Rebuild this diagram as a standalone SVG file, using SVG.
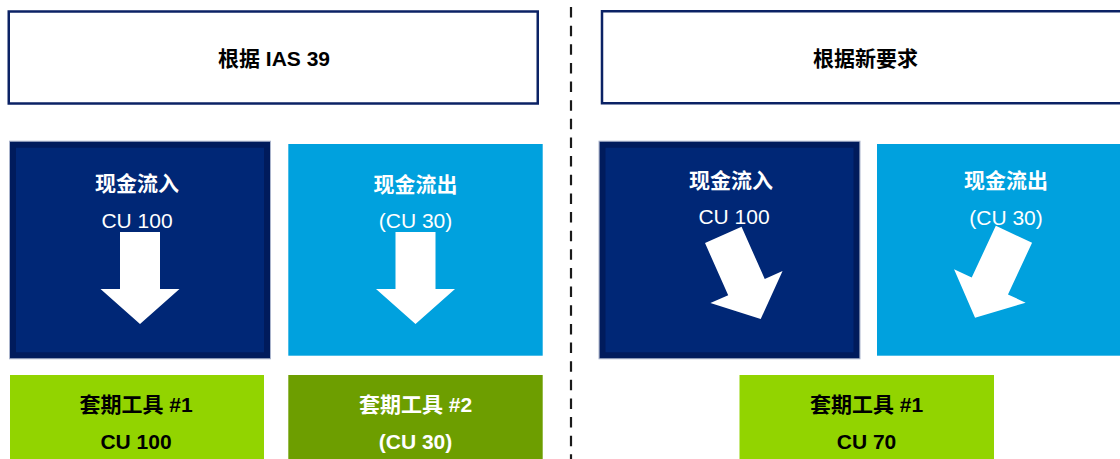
<svg xmlns="http://www.w3.org/2000/svg" width="1120" height="459" viewBox="0 0 1120 459">
  <defs>
    <style>
      .t { font-family: "Liberation Sans", "Noto Sans CJK SC", sans-serif; text-anchor: middle; font-size: 21px; }
      .b { font-weight: bold; }
      .w { fill: #ffffff; }
      .k { fill: #000000; }
      .hdr { fill: #ffffff; stroke: #0b2265; stroke-width: 2.5; }
      .navy { fill: #002776; stroke: #001b5c; stroke-width: 6; }
      .navyedge { fill: none; stroke: #aab4cc; stroke-width: 1; }
      .blue { fill: #00a1de; }
      .lgreen { fill: #92d400; }
      .dgreen { fill: #6d9e00; }
      .arrow { fill: #ffffff; }
    </style>
    <polygon id="arr" points="-20,-46 20,-46 20,11 39.5,11 0,46 -39.5,11 -20,11"/>
  </defs>
  <rect width="1120" height="459" fill="#ffffff"/>

  <g id="connectors">
    <line x1="571" y1="7" x2="571" y2="459" stroke="#1a1a1a" stroke-width="2.2" stroke-dasharray="10.5 8.14"/>
  </g>

  <g id="header-ias39">
    <rect class="hdr" x="8.75" y="11.5" width="529" height="92"/>
    <text class="t b k" x="274" y="65.5">根据 IAS 39</text>
  </g>
  <g id="header-new">
    <rect class="hdr" x="602" y="11.25" width="540" height="92"/>
    <text class="t b k" x="865.5" y="65.5">根据新要求</text>
  </g>

  <g id="ias-inflow">
    <rect class="navyedge" x="9.5" y="141.2" width="261" height="217.6"/>
    <rect class="navy" x="13" y="144.7" width="254" height="210.6"/>
    <text class="t b w" x="137" y="191">现金流入</text>
    <text class="t w" x="137" y="227.5">CU 100</text>
    <use href="#arr" class="arrow" transform="translate(140,278)"/>
  </g>
  <g id="ias-outflow">
    <rect class="blue" x="288.3" y="144" width="254.4" height="211.7"/>
    <text class="t b w" x="415.5" y="192">现金流出</text>
    <text class="t w" x="415.5" y="228">(CU 30)</text>
    <use href="#arr" class="arrow" transform="translate(415.5,278)"/>
  </g>

  <g id="new-inflow">
    <rect class="navyedge" x="599" y="141.2" width="261" height="217.6"/>
    <rect class="navy" x="602.5" y="144.7" width="254" height="210.6"/>
    <text class="t b w" x="731" y="188">现金流入</text>
    <text class="t w" x="734" y="224">CU 100</text>
    <use href="#arr" class="arrow" transform="translate(742,277) rotate(-24)"/>
  </g>
  <g id="new-outflow">
    <rect class="blue" x="877" y="144" width="260" height="211.7"/>
    <text class="t b w" x="1006" y="188">现金流出</text>
    <text class="t w" x="1006" y="224.5">(CU 30)</text>
    <use href="#arr" class="arrow" transform="translate(994.5,276) rotate(25)"/>
  </g>

  <g id="ias-hedge1">
    <rect class="lgreen" x="10" y="375" width="254" height="84"/>
    <text class="t b k" x="136" y="411.5">套期工具 #1</text>
    <text class="t b k" x="136" y="448.5">CU 100</text>
  </g>
  <g id="ias-hedge2">
    <rect class="dgreen" x="288.3" y="375" width="254.4" height="84"/>
    <text class="t b w" x="415.5" y="411.5">套期工具 #2</text>
    <text class="t b w" x="415.5" y="448.5">(CU 30)</text>
  </g>
  <g id="new-hedge1">
    <rect class="lgreen" x="739.5" y="375" width="254.5" height="84"/>
    <text class="t b k" x="866.5" y="411.5">套期工具 #1</text>
    <text class="t b k" x="866.5" y="448.5">CU 70</text>
  </g>
</svg>
